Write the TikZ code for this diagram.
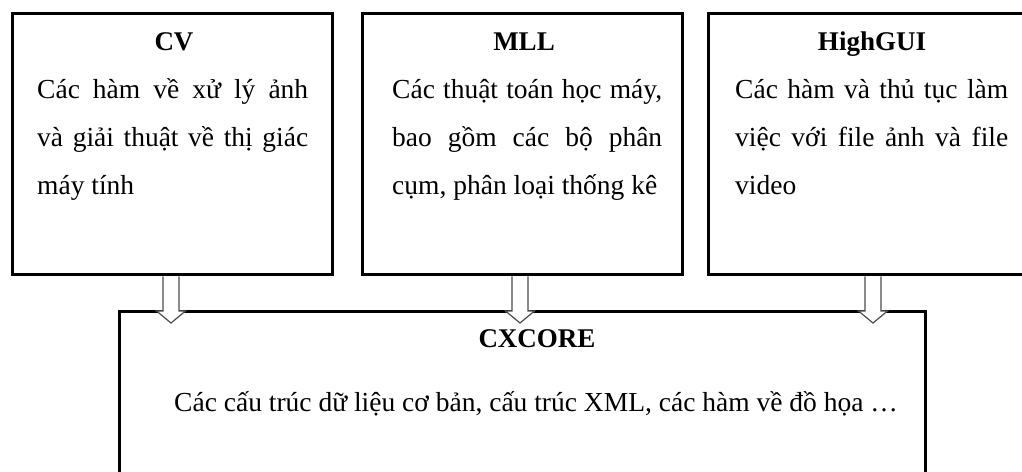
\documentclass[tikz,border=0pt]{standalone}
\usepackage{fontspec}
\setmainfont{Liberation Serif}
\usetikzlibrary{calc}
\begin{document}
\begin{tikzpicture}[x=1pt,y=1pt,
  box/.style={draw=black, line width=3pt, inner sep=0pt, outer sep=0pt, anchor=north west},
  boxtitle/.style={font=\fontsize{27}{32}\selectfont\bfseries, anchor=base, inner sep=0pt},
  bodyline/.style={font=\fontsize{27.5}{32}\selectfont, anchor=base west, inner sep=0pt},
  bodycenter/.style={font=\fontsize{27.5}{32}\selectfont, anchor=base, inner sep=0pt},
  blockarrow/.style={draw=black!70, line width=1.2pt, fill=white, line join=miter}]
\useasboundingbox (0,0) rectangle (1022,471);
\begin{scope}
\clip (0,0) rectangle (1022,471);
% module boxes
\node[box, minimum width=806pt, minimum height=180pt] (core) at (119,159) {};
\node[box, minimum width=320pt, minimum height=261pt] (cv) at (12,457) {};
\node[box, minimum width=320pt, minimum height=261pt] (mll) at (362,457) {};
\node[box, minimum width=322pt, minimum height=261pt] (gui) at (708,457) {};

% hollow block arrows from each module down to CXCORE
\foreach \src/\xx in {cv/171, mll/520, gui/873} {
  \draw[blockarrow] let \p1=(\src.south), \p2=(core.north) in
    (\xx pt-8pt, \y1-1.5pt) -- (\xx pt-8pt, \y2+1pt) -- (\xx pt-14.5pt, \y2+1pt)
    -- (\xx pt, \y2-11pt) -- (\xx pt+14.5pt, \y2+1pt) -- (\xx pt+8pt, \y2+1pt)
    -- (\xx pt+8pt, \y1-1.5pt);
}

% CV
\node[boxtitle] (cvt) at (174,420) {CV};
\node[bodyline] (cva) at (37,372) {\makebox[271pt][s]{Các hàm về xử lý ảnh}};
\node[bodyline] (cvb) at (37,324) {\makebox[271pt][s]{và giải thuật về thị giác}};
\node[bodyline] (cvc) at (37,276) {máy tính};

% MLL
\node[boxtitle] (mllt) at (524,420) {MLL};
\node[bodyline] (mlla) at (392,372) {\makebox[270pt][s]{Các thuật toán học máy,}};
\node[bodyline] (mllb) at (392,324) {\makebox[270pt][s]{bao gồm các bộ phân}};
\node[bodyline] (mllc) at (392,276) {cụm, phân loại thống kê};

% HighGUI
\node[boxtitle] (guit) at (872,420) {HighGUI};
\node[bodyline] (guia) at (735,372) {\makebox[273pt][s]{Các hàm và thủ tục làm}};
\node[bodyline] (guib) at (735,324) {\makebox[273pt][s]{việc với file ảnh và file}};
\node[bodyline] (guic) at (735,276) {video};

% CXCORE
\node[boxtitle] (coret) at (537,123) {CXCORE};
\node[bodycenter] (corea) at (536,59) {Các cấu trúc dữ liệu cơ bản, cấu trúc XML, các hàm về đồ họa …};
\end{scope}
\end{tikzpicture}
\end{document}
